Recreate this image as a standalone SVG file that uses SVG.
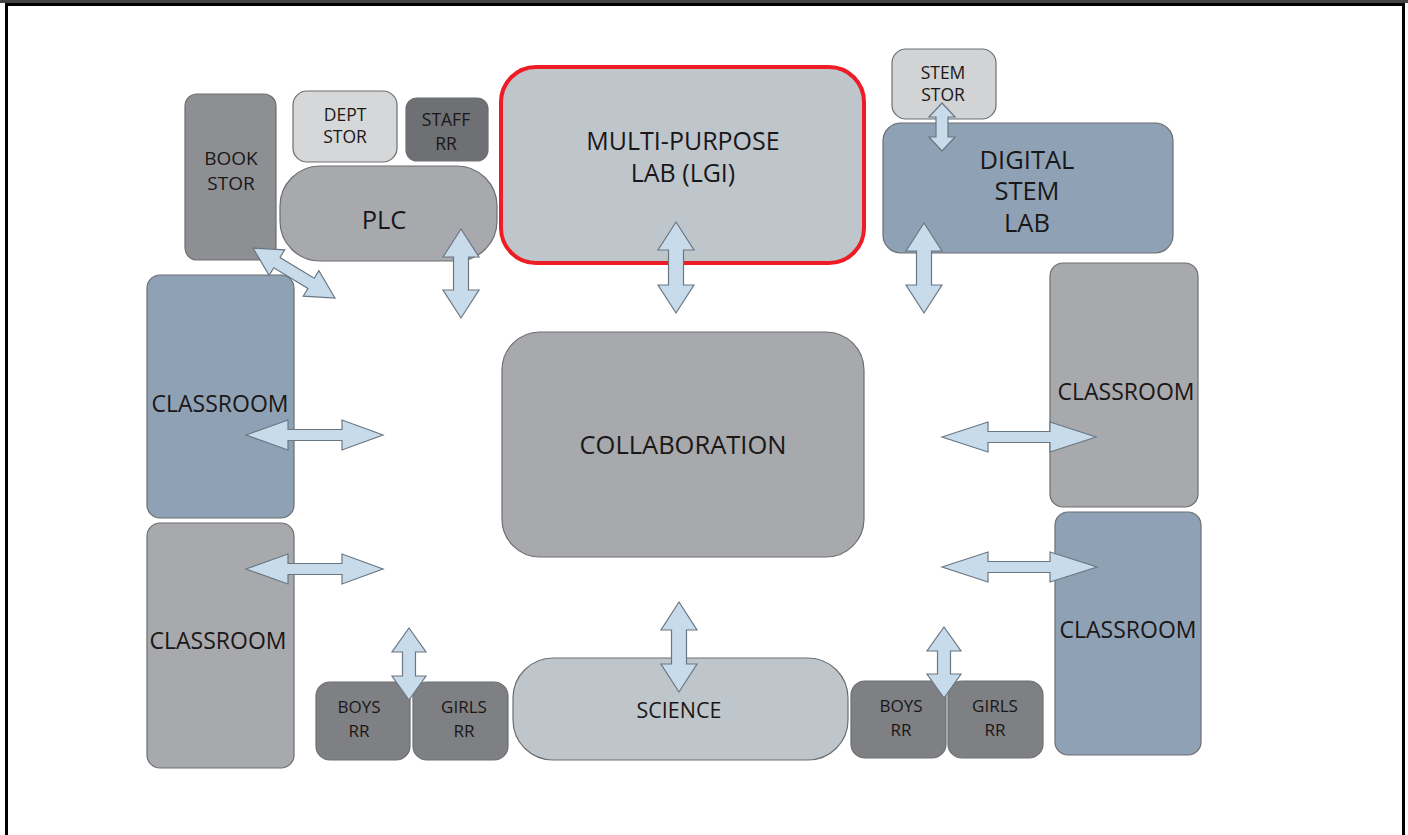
<svg xmlns="http://www.w3.org/2000/svg" width="1408" height="835" viewBox="0 0 1408 835">
<style>
.n{stroke:#6d6e71;stroke-width:1.2}
.g1{fill:#a7a9ac}
.g2{fill:#8e8f92}
.g3{fill:#d6d7d9}
.g4{fill:#6f7073}
.g5{fill:#bec6cb}
.bl{fill:#8fa2b5}
.rr{fill:#7f8083}
.t{font-family:"Open Sans","Liberation Sans",sans-serif;fill:#1a1718;text-anchor:middle}
.ar{fill:#c8dbeb;stroke:#6a7783;stroke-width:1.2;stroke-linejoin:miter}
</style>
<rect x="0" y="0" width="1408" height="835" fill="#ffffff"/>
<rect x="0" y="0" width="1408" height="3" fill="#444444"/>
<rect x="6.5" y="4.5" width="1397" height="840" fill="none" stroke="#000000" stroke-width="3"/>

<g id="book-stor"><rect class="n g2" x="185" y="94" width="91" height="166" rx="12"/><text class="t" font-size="19" x="231" y="165">BOOK</text><text class="t" font-size="19" x="231" y="190">STOR</text></g>
<g id="dept-stor"><rect class="n g3" x="293" y="91" width="104" height="71" rx="14"/><text class="t" font-size="17.5" x="345" y="121">DEPT</text><text class="t" font-size="17.5" x="345" y="143">STOR</text></g>
<g id="staff-rr"><rect class="n g4" x="406" y="98" width="82" height="63" rx="11"/><text class="t" font-size="17.5" x="446" y="126">STAFF</text><text class="t" font-size="17.5" x="446" y="150">RR</text></g>
<g id="plc"><rect class="n g1" x="280" y="166" width="217" height="95" rx="40"/><text class="t" font-size="25.5" x="384" y="229">PLC</text></g>
<g id="multi-purpose-lab"><rect x="501" y="67" width="363" height="196" rx="35" fill="#bec6cb" stroke="#ee1c24" stroke-width="4"/><text class="t" font-size="25" x="683" y="150">MULTI-PURPOSE</text><text class="t" font-size="25" x="683" y="182">LAB (LGI)</text></g>
<g id="stem-stor"><rect class="n" fill="#d1d3d4" x="892" y="49" width="104" height="70" rx="14"/><text class="t" font-size="17.5" x="943" y="79">STEM</text><text class="t" font-size="17.5" x="943" y="101">STOR</text></g>
<g id="digital-stem-lab"><rect class="n bl" x="883" y="123" width="290" height="130" rx="18"/><text class="t" font-size="25.5" x="1027" y="169">DIGITAL</text><text class="t" font-size="25.5" x="1027" y="200">STEM</text><text class="t" font-size="25.5" x="1027" y="232">LAB</text></g>
<g id="classroom-left-top"><rect class="n bl" x="147" y="275" width="147" height="243" rx="13"/><text class="t" font-size="23" x="220" y="412">CLASSROOM</text></g>
<g id="classroom-left-bottom"><rect class="n g1" x="147" y="523" width="147" height="245" rx="13"/><text class="t" font-size="23" x="218" y="649">CLASSROOM</text></g>
<g id="classroom-right-top"><rect class="n g1" x="1050" y="263" width="148" height="244" rx="13"/><text class="t" font-size="23" x="1126" y="400">CLASSROOM</text></g>
<g id="classroom-right-bottom"><rect class="n bl" x="1055" y="512" width="146" height="243" rx="13"/><text class="t" font-size="23" x="1128" y="638">CLASSROOM</text></g>
<g id="collaboration"><rect class="n g1" x="502" y="332" width="362" height="225" rx="38"/><text class="t" font-size="25.5" x="683" y="454">COLLABORATION</text></g>
<g id="science"><rect class="n g5" x="513" y="658" width="335" height="102" rx="40"/><text class="t" font-size="21.5" x="679" y="718">SCIENCE</text></g>
<g id="boys-rr-left"><rect class="n rr" x="316" y="682" width="94" height="78" rx="14"/><text class="t" font-size="17" x="359" y="713">BOYS</text><text class="t" font-size="17" x="359" y="737">RR</text></g>
<g id="girls-rr-left"><rect class="n rr" x="413" y="682" width="95" height="78" rx="14"/><text class="t" font-size="17" x="464" y="713">GIRLS</text><text class="t" font-size="17" x="464" y="737">RR</text></g>
<g id="boys-rr-right"><rect class="n rr" x="851" y="681" width="95" height="77" rx="14"/><text class="t" font-size="17" x="901" y="712">BOYS</text><text class="t" font-size="17" x="901" y="736">RR</text></g>
<g id="girls-rr-right"><rect class="n rr" x="948" y="681" width="95" height="77" rx="14"/><text class="t" font-size="17" x="995" y="712">GIRLS</text><text class="t" font-size="17" x="995" y="736">RR</text></g>

<g id="connectors">
<polygon class="ar" points="246,435 288,420 288,429.5 342,429.5 342,420 383,435 342,450 342,440.5 288,440.5 288,450"/>
<polygon class="ar" points="246,569 288,554 288,563.5 342,563.5 342,554 383,569 342,584 342,574.5 288,574.5 288,584"/>
<polygon class="ar" points="942,437 988,422 988,431.5 1050,431.5 1050,422 1096,437 1050,452 1050,442.5 988,442.5 988,452"/>
<polygon class="ar" points="942,567 988,552 988,561.5 1050,561.5 1050,552 1097,567 1050,582 1050,572.5 988,572.5 988,582"/>
<polygon class="ar" points="461,229 479,257 468.5,257 468.5,290 479,290 461,318 443,290 453.5,290 453.5,257 443,257"/>
<polygon class="ar" points="676,222 694,250 683.5,250 683.5,285 694,285 676,313 658,285 668.5,285 668.5,250 658,250"/>
<polygon class="ar" points="924,223 942,251 931.5,251 931.5,285 942,285 924,313 906,285 916.5,285 916.5,251 906,251"/>
<polygon class="ar" points="679,602 697,630 686.5,630 686.5,664 697,664 679,692 661,664 671.5,664 671.5,630 661,630"/>
<polygon class="ar" points="409,628 426,652 415.5,652 415.5,676 426,676 409,700 392,676 402.5,676 402.5,652 392,652"/>
<polygon class="ar" points="944,627 961,651 950.5,651 950.5,674 961,674 944,698 927,674 937.5,674 937.5,651 927,651"/>
<polygon class="ar" points="942,103 955,117 948,117 948,137 955,137 942,151 929,137 936,137 936,117 929,117"/>
<polygon class="ar" transform="translate(294,273) rotate(31.4)" points="-48,0 -20,-15 -20,-6 20,-6 20,-15 48,0 20,15 20,6 -20,6 -20,15"/>
</g>
</svg>
